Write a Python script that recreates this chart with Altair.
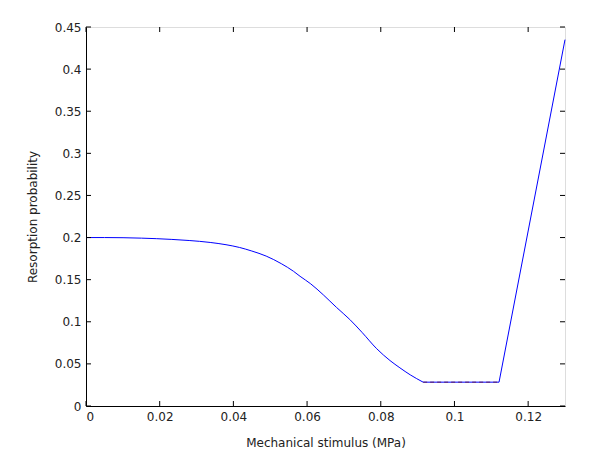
import altair as alt
import pandas as pd

# Smooth descending part of the curve
curve_x = [0.0, 0.005, 0.0151, 0.0233, 0.028, 0.0337, 0.038, 0.0417, 0.045, 0.0489,
           0.053, 0.0563, 0.0581, 0.061, 0.0644, 0.068, 0.0716, 0.075, 0.0789,
           0.0825, 0.0852, 0.088, 0.0915]
curve_y = [0.2, 0.2, 0.1993, 0.1978, 0.1965, 0.1942, 0.1915, 0.1882, 0.184, 0.178,
           0.169, 0.160, 0.154, 0.145, 0.132, 0.117, 0.1027, 0.087, 0.068,
           0.054, 0.0453, 0.037, 0.0283]

# flat segment then the steep linear rise
rise_x = [0.0915, 0.1121, 0.13]
rise_y = [0.0283, 0.0283, 0.435]

flat_x = [0.0915, 0.1121]
flat_y = [0.0283, 0.0283]

x_ticks = [0, 0.02, 0.04, 0.06, 0.08, 0.1, 0.12]
y_ticks = [0, 0.05, 0.1, 0.15, 0.2, 0.25, 0.3, 0.35, 0.4, 0.45]

W, H = 479, 379
FONT = "DejaVu Sans"
FS = 12

df_curve = pd.DataFrame({"x": curve_x, "y": curve_y})
df_rise = pd.DataFrame({"x": rise_x, "y": rise_y})
df_flat = pd.DataFrame({"x": flat_x, "y": flat_y})
dfx = pd.DataFrame({"t": x_ticks})
dfy = pd.DataFrame({"t": y_ticks})

xscale = alt.Scale(domain=[0, 0.13], nice=False, zero=False)
yscale = alt.Scale(domain=[0, 0.45], nice=False, zero=False)

xaxis = alt.Axis(values=x_ticks, format="~g", ticks=False, grid=False,
                 domainColor="black", labelPadding=5, labelFontSize=FS,
                 labelColor="#222", title="Mechanical stimulus (MPa)",
                 titleFontSize=FS, titleFontWeight="normal", titleColor="#222",
                 titlePadding=15, labelFont=FONT, titleFont=FONT)
yaxis = alt.Axis(values=y_ticks, format="~g", ticks=False, grid=False,
                 domainColor="black", labelPadding=5, labelFontSize=FS,
                 labelColor="#222", title="Resorption probability",
                 titleFontSize=FS, titleFontWeight="normal", titleColor="#222",
                 titlePadding=15, labelFont=FONT, titleFont=FONT)

curve = alt.Chart(df_curve).mark_line(color="#0000ff", strokeWidth=1,
                                      interpolate="monotone").encode(
    x=alt.X("x:Q", scale=xscale, axis=xaxis),
    y=alt.Y("y:Q", scale=yscale, axis=yaxis),
)

rise = alt.Chart(df_rise).mark_line(color="#0000ff", strokeWidth=1).encode(
    x=alt.X("x:Q", scale=xscale),
    y=alt.Y("y:Q", scale=yscale),
)

flat = alt.Chart(df_flat).mark_line(color="#602060", strokeWidth=1,
                                    strokeDash=[4, 3]).encode(
    x=alt.X("x:Q", scale=xscale),
    y=alt.Y("y:Q", scale=yscale),
)

tick_len = 5
xt_bottom = alt.Chart(dfx).mark_rule(color="black").encode(
    x=alt.X("t:Q", scale=xscale), y=alt.value(H), y2=alt.value(H - tick_len))
xt_top = alt.Chart(dfx).mark_rule(color="black").encode(
    x=alt.X("t:Q", scale=xscale), y=alt.value(0), y2=alt.value(tick_len))
yt_left = alt.Chart(dfy).mark_rule(color="black").encode(
    y=alt.Y("t:Q", scale=yscale), x=alt.value(0), x2=alt.value(tick_len))
yt_right = alt.Chart(dfy).mark_rule(color="black").encode(
    y=alt.Y("t:Q", scale=yscale), x=alt.value(W - tick_len), x2=alt.value(W))

chart = alt.layer(curve, rise, flat, xt_bottom, xt_top, yt_left, yt_right).properties(
    width=W, height=H,
    autosize=alt.AutoSizeParams(type="none"),
    padding={"left": 78, "top": 19, "right": 20, "bottom": 50},
).configure_view(stroke="black", strokeWidth=1).configure(background="white")

chart.save("out.html", embed_options={"renderer": "svg", "actions": False})
